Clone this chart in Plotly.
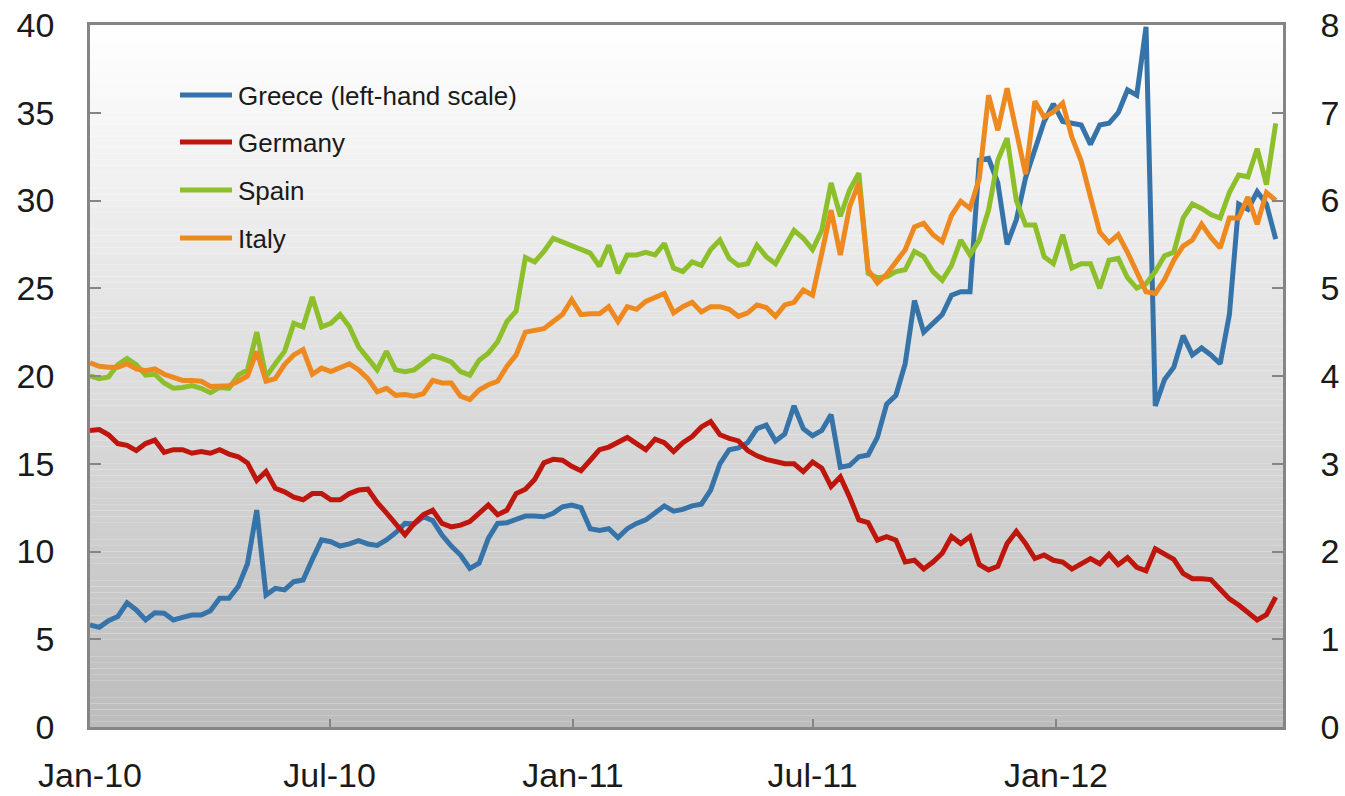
import pandas as pd
import plotly.graph_objects as go

# ---- data (weekly observations, 10-year government bond yields, %) ----
dates = pd.date_range("2010-01-01", periods=129, freq="7D")

greece = [5.81, 5.68, 6.06, 6.29, 7.08, 6.67, 6.10, 6.51, 6.48, 6.10,
          6.25, 6.38, 6.38, 6.63, 7.33, 7.33, 8.00, 9.30, 12.36, 7.52,
          7.90, 7.81, 8.28, 8.38, 9.55, 10.66, 10.56, 10.31, 10.43, 10.62,
          10.43, 10.35, 10.66, 11.07, 11.60, 11.57, 11.98, 11.76, 10.94, 10.31,
          9.80, 9.04, 9.33, 10.75, 11.60, 11.64, 11.83, 12.02, 12.02, 11.98,
          12.18, 12.55, 12.65, 12.50, 11.30, 11.20, 11.30, 10.80, 11.30, 11.60,
          11.80, 12.20, 12.60, 12.30, 12.40, 12.60, 12.70, 13.50, 15.00, 15.80,
          15.90, 16.20, 17.00, 17.20, 16.30, 16.70, 18.30, 17.00, 16.60, 16.90,
          17.80, 14.80, 14.90, 15.40, 15.50, 16.50, 18.40, 18.90, 20.70, 24.30,
          22.50, 23.00, 23.50, 24.60, 24.80, 24.80, 32.30, 32.40, 31.00, 27.50,
          28.90, 31.30, 32.90, 34.50, 35.50, 34.50, 34.40, 34.30, 33.20, 34.30,
          34.40, 35.00, 36.30, 36.00, 39.90, 18.30, 19.80, 20.50, 22.30, 21.20,
          21.60, 21.20, 20.70, 23.50, 29.80, 29.50, 30.50, 29.80, 27.80]

germany = [3.38, 3.39, 3.33, 3.23, 3.21, 3.15, 3.23, 3.27, 3.13, 3.16,
           3.16, 3.12, 3.14, 3.12, 3.16, 3.11, 3.08, 3.01, 2.81, 2.91,
           2.72, 2.68, 2.62, 2.59, 2.66, 2.66, 2.59, 2.59, 2.66, 2.70,
           2.71, 2.56, 2.44, 2.31, 2.19, 2.32, 2.42, 2.47, 2.32, 2.28,
           2.30, 2.34, 2.44, 2.53, 2.42, 2.47, 2.66, 2.71, 2.82, 3.01,
           3.05, 3.04, 2.97, 2.92, 3.04, 3.16, 3.19, 3.25, 3.30, 3.23,
           3.16, 3.28, 3.24, 3.14, 3.24, 3.31, 3.42, 3.48, 3.33, 3.29,
           3.26, 3.15, 3.09, 3.05, 3.03, 3.00, 3.00, 2.91, 3.02, 2.95,
           2.74, 2.85, 2.62, 2.36, 2.33, 2.13, 2.17, 2.13, 1.88, 1.90,
           1.80, 1.88, 1.98, 2.17, 2.09, 2.17, 1.85, 1.79, 1.83, 2.09,
           2.23, 2.09, 1.92, 1.96, 1.90, 1.88, 1.80, 1.86, 1.92, 1.86,
           1.97, 1.85, 1.93, 1.82, 1.78, 2.03, 1.97, 1.91, 1.75, 1.69,
           1.69, 1.68, 1.57, 1.46, 1.39, 1.31, 1.22, 1.28, 1.48]

spain = [4.00, 3.97, 3.99, 4.13, 4.20, 4.13, 4.01, 4.02, 3.92, 3.86,
         3.87, 3.89, 3.86, 3.81, 3.87, 3.86, 4.01, 4.07, 4.50, 3.99,
         4.14, 4.28, 4.60, 4.56, 4.90, 4.56, 4.60, 4.70, 4.56, 4.33,
         4.20, 4.07, 4.28, 4.07, 4.05, 4.07, 4.15, 4.23, 4.20, 4.16,
         4.05, 4.01, 4.18, 4.26, 4.39, 4.62, 4.74, 5.35, 5.30, 5.42,
         5.57, 5.53, 5.49, 5.44, 5.40, 5.25, 5.49, 5.17, 5.38, 5.38,
         5.41, 5.38, 5.51, 5.23, 5.19, 5.30, 5.26, 5.44, 5.55, 5.34,
         5.26, 5.28, 5.49, 5.36, 5.28, 5.47, 5.66, 5.57, 5.44, 5.66,
         6.20, 5.82, 6.12, 6.31, 5.17, 5.12, 5.13, 5.19, 5.21, 5.42,
         5.36, 5.19, 5.09, 5.26, 5.55, 5.38, 5.55, 5.89, 6.46, 6.71,
         6.00, 5.72, 5.72, 5.36, 5.28, 5.61, 5.23, 5.28, 5.28, 5.00,
         5.32, 5.34, 5.12, 5.00, 5.05, 5.19, 5.37, 5.41, 5.80, 5.96,
         5.91, 5.84, 5.80, 6.09, 6.29, 6.27, 6.59, 6.18, 6.88]

italy = [4.15, 4.11, 4.10, 4.10, 4.14, 4.08, 4.06, 4.08, 4.02, 3.98,
         3.95, 3.95, 3.94, 3.88, 3.88, 3.89, 3.94, 4.00, 4.28, 3.94,
         3.97, 4.13, 4.24, 4.30, 4.02, 4.09, 4.05, 4.09, 4.14, 4.07,
         3.97, 3.82, 3.86, 3.78, 3.79, 3.77, 3.80, 3.95, 3.92, 3.92,
         3.77, 3.73, 3.84, 3.90, 3.94, 4.11, 4.24, 4.50, 4.52, 4.54,
         4.62, 4.70, 4.87, 4.70, 4.71, 4.71, 4.79, 4.62, 4.79, 4.76,
         4.85, 4.90, 4.94, 4.72, 4.79, 4.84, 4.73, 4.79, 4.79, 4.76,
         4.68, 4.72, 4.81, 4.78, 4.68, 4.81, 4.84, 4.98, 4.92, 5.40,
         5.89, 5.38, 5.93, 6.20, 5.21, 5.06, 5.16, 5.30, 5.44, 5.70,
         5.74, 5.61, 5.53, 5.83, 5.99, 5.91, 6.25, 7.20, 6.80, 7.28,
         6.80, 6.30, 7.13, 6.95, 7.01, 7.11, 6.72, 6.45, 6.04, 5.64,
         5.52, 5.61, 5.41, 5.19, 4.96, 4.94, 5.10, 5.32, 5.48, 5.55,
         5.73, 5.58, 5.46, 5.80, 5.80, 6.04, 5.73, 6.09, 6.00]

series_names = ["Greece (left-hand scale)", "Germany", "Spain", "Italy"]
series_colors = ["#3573a9", "#be150c", "#8dbf2b", "#ee891f"]

x_tick_dates = ["2010-01-01", "2010-07-01", "2011-01-01", "2011-07-01", "2012-01-01"]
x_tick_labels = ["Jan-10", "Jul-10", "Jan-11", "Jul-11", "Jan-12"]
left_ticks = [0, 5, 10, 15, 20, 25, 30, 35, 40]
right_ticks = [0, 1, 2, 3, 4, 5, 6, 7, 8]

# ---- figure ----
fig = go.Figure()
values = [greece, germany, spain, italy]
axes = ["y", "y2", "y2", "y2"]
for name, vals, col, ax in zip(series_names, values, series_colors, axes):
    fig.add_trace(go.Scatter(x=dates, y=vals, name=name, mode="lines", yaxis=ax,
                             line=dict(color=col, width=5), showlegend=False,
                             hoverinfo="skip"))

FONT = "Liberation Sans, Arial, sans-serif"
AXIS_GRAY = "#858585"

# gradient plot background (white at top to grey at bottom)
n_bands = 120
shapes = []
for i in range(n_bands):
    t = (i + 0.5) / n_bands
    v = int(round(255 - (255 - 188) * t))
    shapes.append(dict(type="rect", xref="paper", yref="paper",
                       x0=0, x1=1, y0=1 - (i + 1) / n_bands, y1=1 - i / n_bands,
                       fillcolor=f"rgb({v},{v},{v})", line=dict(width=0),
                       layer="below"))

# legend (drawn manually to match the long sample lines)
W, H = 1345, 796
L, R, T, B = 90, 62, 25, 69
pw, ph = W - L - R, H - T - B
def px(xp):
    return (xp - L) / pw
def py(yp):
    return (H - B - yp) / ph

legend_rows = [95, 142, 190, 238]
annotations = []
for name, col, yrow in zip(series_names, series_colors, legend_rows):
    shapes.append(dict(type="line", xref="paper", yref="paper",
                       x0=px(180), x1=px(232), y0=py(yrow), y1=py(yrow),
                       line=dict(color=col, width=5), layer="above"))
    annotations.append(dict(xref="paper", yref="paper", x=px(236), y=py(yrow + 1),
                            text=name, showarrow=False, xanchor="left",
                            yanchor="middle",
                            font=dict(family=FONT, size=26, color="#1a1a1a")))

fig.update_layout(
    width=W, height=H, autosize=False,
    margin=dict(l=L, r=R, t=T, b=B, pad=0, autoexpand=False),
    paper_bgcolor="white", plot_bgcolor="white",
    font=dict(family=FONT, size=34, color="#1a1a1a"),
    showlegend=False,
    shapes=shapes, annotations=annotations,
    xaxis=dict(type="date", range=["2010-01-01", "2012-06-20 12:00"],
               tickvals=x_tick_dates, ticktext=x_tick_labels, automargin=False,
               ticks="inside", ticklen=8, tickwidth=1.5, tickcolor=AXIS_GRAY,
               showline=True, linecolor=AXIS_GRAY, linewidth=2.5, mirror=True,
               showgrid=False, zeroline=False, ticklabelstandoff=16,
               tickfont=dict(family=FONT, size=34, color="#1a1a1a")),
    yaxis=dict(range=[0, 40], tickvals=left_ticks, automargin=False,
               ticks="inside", ticklen=11, tickwidth=1.5, tickcolor=AXIS_GRAY,
               showline=True, linecolor=AXIS_GRAY, linewidth=2.5,
               showgrid=False, zeroline=False, ticklabelstandoff=26,
               tickfont=dict(family=FONT, size=34, color="#1a1a1a")),
    yaxis2=dict(range=[0, 8], tickvals=right_ticks, overlaying="y", side="right",
                automargin=False,
                ticks="inside", ticklen=11, tickwidth=1.5, tickcolor=AXIS_GRAY,
                showline=True, linecolor=AXIS_GRAY, linewidth=2.5,
                showgrid=False, zeroline=False, ticklabelstandoff=28,
                tickfont=dict(family=FONT, size=34, color="#1a1a1a")),
)

fig.write_html("out.html", config={"displayModeBar": False},
               post_script="document.body.style.margin='0';"
                           "document.body.style.overflow='hidden';")
